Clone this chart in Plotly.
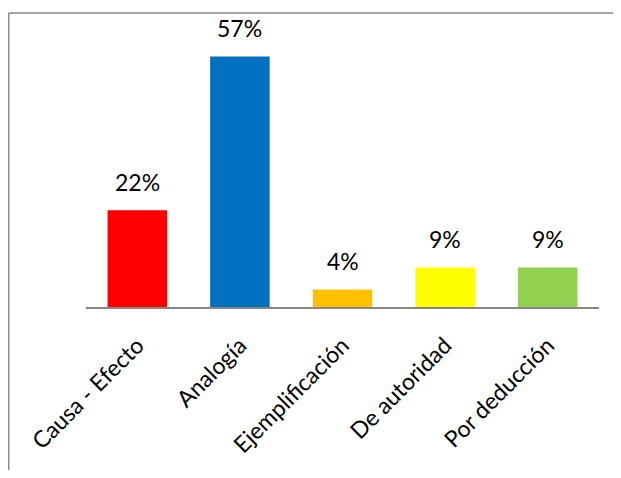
import plotly.graph_objects as go

# data
categories = ["Causa - Efecto", "Analogía", "Ejemplificación", "De autoridad", "Por deducción"]
percentages = [22, 57, 4, 9, 9]
bar_colors = ["#FF0000", "#0070C0", "#FFC000", "#FFFF00", "#92D050"]

FONT = "Lato, 'Open Sans', sans-serif"

fig = go.Figure(go.Bar(
    x=categories,
    y=percentages,
    marker=dict(color=bar_colors, line=dict(width=0)),
    hoverinfo="x+y",
))

# value labels sit a little higher above the bars than plotly's own outside text
for cat, val in zip(categories, percentages):
    fig.add_annotation(
        x=cat, y=val, text=f"{val}%",
        showarrow=False, yanchor="bottom", yshift=12,
        font=dict(family=FONT, size=23, color="black"),
    )

frame_left = (8.7 - 86) / 513
frame_top = (311 - 13) / 291
frame = dict(color="#898989", width=1.5)

# the page body has an 8px margin, so the figure is sized to fit what is left
fig.update_layout(
    width=613, height=462,
    margin=dict(l=78, r=22, t=12, b=159),
    paper_bgcolor="white",
    plot_bgcolor="white",
    showlegend=False,
    bargap=0.42,
    xaxis=dict(
        tickangle=-45,
        tickfont=dict(family=FONT, size=23, color="black"),
        ticklabelstandoff=14,
        showline=True, linecolor="#868686", linewidth=2,
        ticks="", showgrid=False,
    ),
    yaxis=dict(
        range=[0, 65.3],
        visible=False,
        showgrid=False,
    ),
    # outer chart frame: only its top and left edges are in view
    shapes=[
        dict(type="line", xref="paper", yref="paper",
             x0=frame_left, x1=1.1, y0=frame_top, y1=frame_top, line=frame),
        dict(type="line", xref="paper", yref="paper",
             x0=frame_left, x1=frame_left, y0=-0.6, y1=frame_top, line=frame),
    ],
)

fig.write_html("out.html", config={"displayModeBar": False})
